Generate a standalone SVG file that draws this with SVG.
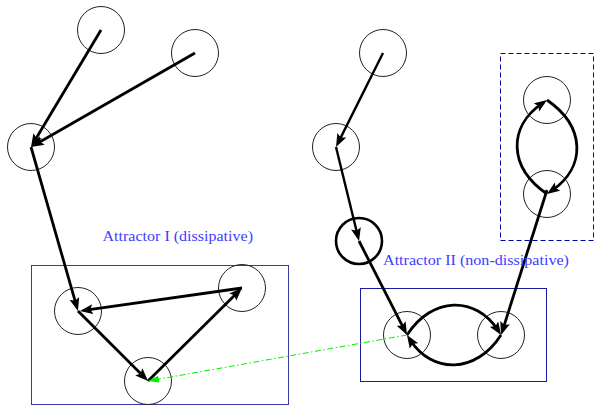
<svg xmlns="http://www.w3.org/2000/svg" width="595" height="406" viewBox="0 0 595 406">
<style>
.node{fill:none;stroke:#222;stroke-width:1}
.thick{fill:none;stroke:#000;stroke-width:2.6}
.edge{fill:none;stroke:#000;stroke-width:2.8;marker-end:url(#ah)}
.thin{stroke-width:2.4}
.box{fill:none;stroke-width:1}
.lbl{font-family:"Liberation Serif","Times New Roman",serif;font-size:14.5px;fill:#3c3cff}
</style>
<defs>
<marker id="ah" markerUnits="userSpaceOnUse" markerWidth="16" markerHeight="12" refX="7" refY="5" orient="auto">
<path d="M0,0 L13,5 L0,10 L2.5,5 z" fill="#000"/>
</marker>
<marker id="gh" markerUnits="userSpaceOnUse" markerWidth="13" markerHeight="10" refX="5" refY="3.5" orient="auto">
<path d="M0,0 L11,3.5 L0,7 z" fill="#00ee00"/>
</marker>
</defs>
<g id="boxes">
<rect id="attractor1" class="box" x="31.5" y="265.5" width="257" height="139" stroke="#3a3aa0"/>
<rect id="attractor2" class="box" x="360.5" y="288.5" width="186" height="93" stroke="#1a1aa0"/>
<rect id="loopbox" class="box" x="500.5" y="53.5" width="93" height="187" stroke="#0000aa" stroke-dasharray="5 3"/>
</g>
<g id="nodes">
<circle id="A" class="node" cx="101" cy="30" r="23.5"/>
<circle id="B" class="node" cx="195" cy="53" r="23.5"/>
<circle id="C" class="node" cx="31" cy="147" r="23.5"/>
<circle id="D" class="node" cx="78" cy="311" r="23.5"/>
<circle id="E" class="node" cx="242" cy="288" r="23.5"/>
<circle id="F" class="node" cx="148" cy="381" r="23.5"/>
<circle id="G" class="node" cx="383" cy="53" r="23.5"/>
<circle id="H" class="node" cx="336" cy="147" r="23.5"/>
<circle id="I" class="thick" cx="359" cy="241" r="23"/>
<circle id="J" class="node" cx="407" cy="335" r="23.5"/>
<circle id="K" class="node" cx="501" cy="335" r="23.5"/>
<circle id="L" class="node" cx="547" cy="100" r="23.5"/>
<circle id="M" class="node" cx="547" cy="194" r="23.5"/>
</g>
<g id="connectors">
<path class="edge" d="M101,30 L34.1,141.8"/>
<path class="edge" d="M195,53 L36.2,144"/>
<path class="edge" d="M31,147 L76.3,305.2"/>
<path class="edge" d="M78,311 L143.8,376.8"/>
<path class="edge" d="M148,381 L237.7,292.2"/>
<path class="edge" d="M242,288 L85.9,310.2"/>
<path class="edge thin" d="M383,53 L338.7,141.6"/>
<path class="edge thin" d="M336,147 L357.6,235.2"/>
<path class="edge" d="M359,241 L404.3,329.7"/>
<path class="edge" d="M547,190 L502.9,329.3"/>
<path class="edge" d="M407,335 C432,296 476,296 497.8,330"/>
<path class="edge" d="M501,335 C476,374 432,374 410.2,340"/>
<path class="edge" d="M547,194 C508,167 508,127 542.1,103.4"/>
<path class="edge" d="M547,100 C586,127 586,167 551.9,190.6"/>
<path d="M407,335 L153.9,380" fill="none" stroke="#00ee00" stroke-width="1" stroke-dasharray="6 2.5 1.5 2.5" marker-end="url(#gh)"/>
</g>
<g id="labels">
<text class="lbl" x="102.5" y="241" textLength="150.5" lengthAdjust="spacingAndGlyphs">Attractor I (dissipative)</text>
<text class="lbl" x="383" y="265" textLength="186" lengthAdjust="spacingAndGlyphs">Attractor II (non-dissipative)</text>
</g>
</svg>
